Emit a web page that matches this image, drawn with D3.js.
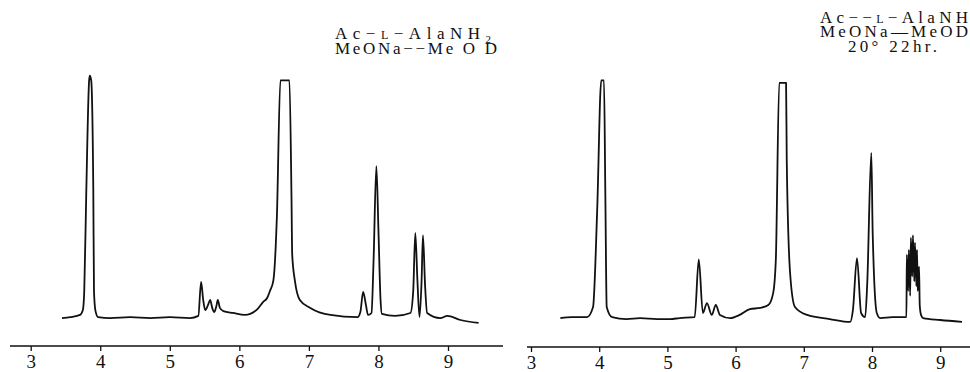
<!DOCTYPE html>
<html><head><meta charset="utf-8">
<script src="https://cdn.jsdelivr.net/npm/d3@7"></script>
<style>
html,body{margin:0;padding:0;background:#fff;}
svg{display:block;}
</style></head>
<body>
<svg id="c" width="970" height="372"></svg>
<script>
// tau (ppm) tick labels
const tauTicks = [3,4,5,6,7,8,9];

// Left spectrum: Ac-L-AlaNH2 in MeONa-MeOD  [tau, relative intensity]
const leftSpectrum = [
 [3.45,0.8],[3.57,1.2],[3.71,2.1],[3.75,4.1],[3.77,12],[3.80,54],[3.84,99],[3.85,101],[3.87,99],[3.90,54],[3.91,12],[3.93,4],[3.97,1.2],
 [4.14,0.8],[4.43,1.2],[4.72,0.8],[5.00,1.2],[5.29,0.8],[5.41,1.7],[5.45,15.7],[5.48,8.3],[5.51,4.1],[5.55,6.2],[5.58,8.3],[5.61,5],
 [5.64,3.3],[5.67,5.8],[5.69,8.3],[5.72,5],[5.77,3.7],[5.91,2.9],[6.08,2.1],[6.26,4.5],[6.34,7.4],[6.40,9.1],[6.44,12],[6.49,16.5],
 [6.54,43],[6.59,99],[6.72,99],[6.75,50],[6.76,27],[6.80,16],[6.87,8.3],[7.02,5],[7.31,2.1],[7.70,1.2],[7.74,3.3],[7.78,11.6],[7.82,6.2],
 [7.85,2.1],[7.90,2.9],[7.93,24.8],[7.97,63.6],[8.00,37],[8.03,8.3],[8.05,2.5],[8.24,1.7],[8.46,2.9],[8.50,12],[8.53,36],[8.56,16.5],
 [8.59,1.2],[8.62,16],[8.64,35],[8.67,14.5],[8.70,2.9],[8.89,0.8],[8.99,1.7],[9.18,0],[9.44,-1.2]
];

// Right spectrum: after 22 hr at 20°  [tau, relative intensity]
const rightSpectrum = [
 [3.43,0.8],[3.60,1.2],[3.82,1.2],[3.91,5.4],[3.97,45],[4.03,99],[4.07,99],[4.09,52],[4.11,5.4],[4.19,1.2],[4.40,0.4],[4.60,0.8],
 [4.85,0.4],[5.04,0.4],[5.18,0.8],[5.40,1.2],[5.46,25],[5.52,2.9],[5.58,7.0],[5.65,2.1],[5.71,6.2],[5.77,2.1],[5.92,0.8],[6.06,2.1],
 [6.21,4.5],[6.36,5.0],[6.48,6.2],[6.55,11],[6.59,25],[6.64,98],[6.74,98],[6.75,66],[6.80,19],[6.87,5.4],[7.05,2.1],[7.38,0.4],
 [7.68,-0.8],[7.72,4.1],[7.78,25.6],[7.84,2.9],[7.90,1.2],[7.93,15],[7.99,69],[8.01,36],[8.07,2.9],[8.12,0.8],[8.30,1.2],[8.45,1.2],
 [8.505,1.2],[8.51,27],[8.53,12],[8.54,29],[8.56,10],[8.57,34],[8.59,18],[8.60,35],[8.62,16],[8.63,32],[8.65,14],[8.66,29],[8.67,12],
 [8.69,22],[8.70,6],[8.72,2],[8.75,0.8],[9.00,0],[9.32,-0.8]
];

// annotation lines (segment text, style)
const leftLabel = [
  [["Ac","n"],["−","n"],["L","sc"],["−","n"],["AlaNH","n"],["2","sub"]],
  [["MeONa","n"],["−−","n"],["Me O D","n"]]
];
const rightLabel = [
  [["Ac","n"],["−−","n"],["L","sc"],["−","n"],["AlaNH","n"]],
  [["MeONa","n"],["—","n"],["MeOD","n"]],
  [["20°  22hr.","n"]]
];

const svg = d3.select("#c");
const font = "'Liberation Serif','Times New Roman',serif";

const panels = [
  {data:leftSpectrum, range:[30.7,448], axisY:346, axisX:[10,503], label:leftLabel,
   labelX:[335,335], labelY:[39,54], labelW:[156,162]},
  {data:rightSpectrum, range:[531,940.2], axisY:347, axisX:[527,970], label:rightLabel,
   labelX:[820,820,848], labelY:[23,37,52], labelW:[148,148,89]}
];

const y = d3.scaleLinear().domain([0,100]).range([320,78]);

panels.forEach(p => {
  const x = d3.scaleLinear().domain([3,9]).range(p.range);
  const g = svg.append("g");

  // axis baseline
  g.append("line").attr("x1",p.axisX[0]).attr("x2",p.axisX[1])
    .attr("y1",p.axisY).attr("y2",p.axisY)
    .attr("stroke","#111").attr("stroke-width",1.5);

  const ax = d3.axisBottom(x).tickValues(tauTicks).tickSize(5).tickSizeOuter(0).tickPadding(4)
    .tickFormat(d3.format("d"));
  const axg = g.append("g").attr("transform",`translate(0,${p.axisY})`).call(ax);
  axg.select(".domain").remove();
  axg.selectAll(".tick line").attr("stroke","#111").attr("stroke-width",1.3);
  axg.selectAll(".tick text").attr("fill","#111").style("font-family",font).style("font-size","19px");

  // spectrum trace
  const line = d3.line().x(d=>x(d[0])).y(d=>y(d[1])).curve(d3.curveMonotoneX);
  g.append("path").datum(p.data).attr("d",line)
    .attr("fill","none").attr("stroke","#111").attr("stroke-width",1.8)
    .attr("stroke-linejoin","round");

  // label
  p.label.forEach((ln,i) => {
    const t = g.append("text").attr("x",p.labelX[i]).attr("y",p.labelY[i])
      .attr("fill","#111").style("font-family",font).style("font-size","17px")
      .attr("textLength",p.labelW[i]).attr("lengthAdjust","spacing");
    ln.forEach(seg => {
      const ts = t.append("tspan").text(seg[0]);
      if (seg[1]==="sc") ts.style("font-size","12px");
      if (seg[1]==="sub") ts.style("font-size","11px").attr("dy",4);
    });
  });
});
</script>
</body></html>
